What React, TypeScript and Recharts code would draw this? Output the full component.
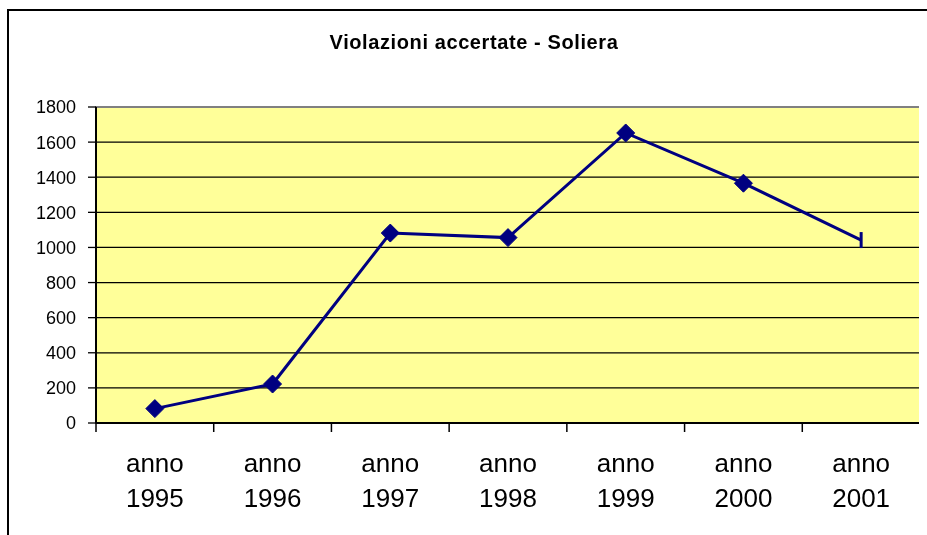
import React from 'react';
import { LineChart, Line, XAxis, YAxis, CartesianGrid, ReferenceArea } from 'recharts';

const years = ['1995', '1996', '1997', '1998', '1999', '2000', '2001'];
const values = [82, 222, 1082, 1056, 1652, 1366, 1042];
const yTicks = [0, 200, 400, 600, 800, 1000, 1200, 1400, 1600, 1800];
const title = 'Violazioni accertate - Soliera';

const data = years.map((y, i) => ({ pos: i + 0.5, year: y, value: values[i] }));
const xTicks: number[] = [];
for (let i = 0; i <= years.length * 2; i++) xTicks.push(i / 2);

const FONT = '"Liberation Sans", Arial, sans-serif';

const XTick = (props: any) => {
  const { x, y, payload } = props;
  const v = payload.value as number;
  if (Number.isInteger(v)) {
    return <line x1={x} y1={y} x2={x} y2={y + 9} stroke="#000" strokeWidth={1.5} />;
  }
  const idx = Math.floor(v);
  return (
    <g>
      <text x={x} y={y + 49} textAnchor="middle" fontSize={26} fontFamily={FONT} fill="#000">anno</text>
      <text x={x} y={y + 84} textAnchor="middle" fontSize={26} fontFamily={FONT} fill="#000">{years[idx]}</text>
    </g>
  );
};

const Dot = (props: any) => {
  const { cx, cy, index } = props;
  if (cx == null || cy == null) return null;
  if (index === years.length - 1) {
    return <line key={index} x1={cx} y1={cy - 8} x2={cx} y2={cy + 8} stroke="#000080" strokeWidth={3} />;
  }
  const r = 9;
  return (
    <path
      key={index}
      d={`M${cx},${cy - r} L${cx + r},${cy} L${cx},${cy + r} L${cx - r},${cy} Z`}
      fill="#000080"
      stroke="#000080"
    />
  );
};

export default function App() {
  return (
    <div style={{ position: 'relative', width: 919, height: 519, fontFamily: FONT }}>
      <div
        style={{
          position: 'fixed',
          left: 7,
          top: 9,
          width: 2000,
          height: 2000,
          borderTop: '2px solid #000',
          borderLeft: '2px solid #000',
          boxSizing: 'border-box',
          pointerEvents: 'none',
        }}
      />
      <div
        style={{
          position: 'absolute',
          left: 466,
          top: 24,
          transform: 'translateX(-50%)',
          whiteSpace: 'nowrap',
          fontSize: 20,
          lineHeight: '20px',
          letterSpacing: '0.6px',
          fontWeight: 'bold',
          color: '#000',
        }}
      >
        {title}
      </div>
      <LineChart
        width={919}
        height={519}
        data={data}
        margin={{ top: 99, right: 7, bottom: 0, left: 0 }}
        style={{ position: 'absolute', left: 0, top: 0 }}
      >
        <CartesianGrid vertical={false} stroke="#000" strokeWidth={1.3} fill="#FFFF99" fillOpacity={1} />
        <ReferenceArea x1={0} x2={7} y1={0} y2={1800} fill="none" stroke="#808080" strokeWidth={2} ifOverflow="visible" />
        <XAxis
          dataKey="pos"
          type="number"
          domain={[0, 7]}
          ticks={xTicks}
          interval={0}
          tickLine={false}
          tickSize={0}
          tickMargin={0}
          height={104}
          axisLine={{ stroke: '#000', strokeWidth: 2 }}
          tick={<XTick />}
          allowDecimals
        />
        <YAxis
          type="number"
          domain={[0, 1800]}
          ticks={yTicks}
          interval={0}
          width={88}
          tickSize={8}
          tickMargin={12}
          axisLine={{ stroke: '#000', strokeWidth: 2 }}
          tickLine={{ stroke: '#000', strokeWidth: 1.3 }}
          tick={{ fill: '#000', fontSize: 18, fontFamily: FONT }}
        />
        <Line
          type="linear"
          dataKey="value"
          stroke="#000080"
          strokeWidth={3}
          dot={<Dot />}
          activeDot={false}
          isAnimationActive={false}
        />
      </LineChart>
    </div>
  );
}
